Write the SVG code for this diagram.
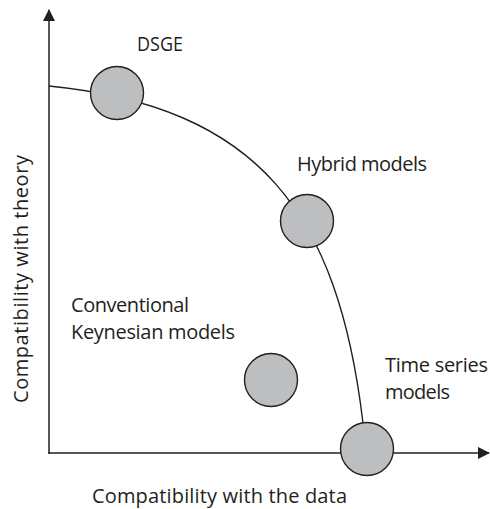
<svg xmlns="http://www.w3.org/2000/svg" width="490" height="509" viewBox="0 0 490 509">
  <style>
    .axis { stroke: #231f20; stroke-width: 1.5; fill: none; }
    .curve { stroke: #231f20; stroke-width: 1.4; fill: none; }
    .node { fill: #bcbec0; stroke: #231f20; stroke-width: 1.4; }
    .label { font-family: "Open Sans", "Liberation Sans", sans-serif; font-size: 20px; fill: #231f20; }
  </style>
  <defs>
    <marker id="arrow" markerWidth="12" markerHeight="12" refX="11" refY="6" orient="auto" markerUnits="userSpaceOnUse">
      <path d="M0,0 L12,6 L0,12 z" fill="#231f20"/>
    </marker>
  </defs>
  <g id="connectors">
    <line class="axis" x1="49" y1="454" x2="49" y2="10" marker-end="url(#arrow)"/>
    <line class="axis" x1="48.25" y1="453" x2="489" y2="453" marker-end="url(#arrow)"/>
    <path class="curve" d="M49,86 C259,107 338,213 363,423 L365,440"/>
  </g>
  <g id="dsge">
    <circle class="node" cx="117" cy="93" r="26.5"/>
    <text class="label" x="137" y="51" textLength="46" lengthAdjust="spacingAndGlyphs">DSGE</text>
  </g>
  <g id="hybrid">
    <circle class="node" cx="307" cy="221" r="26.5"/>
    <text class="label" x="297" y="171" textLength="130">Hybrid models</text>
  </g>
  <g id="conventional">
    <circle class="node" cx="271" cy="380" r="26.5"/>
    <text class="label" x="71" y="312" textLength="118">Conventional</text>
    <text class="label" x="71" y="339" textLength="164">Keynesian models</text>
  </g>
  <g id="timeseries">
    <circle class="node" cx="367" cy="449" r="26.5"/>
    <text class="label" x="385" y="372" textLength="103">Time series</text>
    <text class="label" x="385" y="399" textLength="65">models</text>
  </g>
  <g id="axis-labels">
    <text class="label" x="92" y="503" textLength="255">Compatibility with the data</text>
    <text class="label" transform="translate(28,403) rotate(-90)" textLength="248">Compatibility with theory</text>
  </g>
</svg>
